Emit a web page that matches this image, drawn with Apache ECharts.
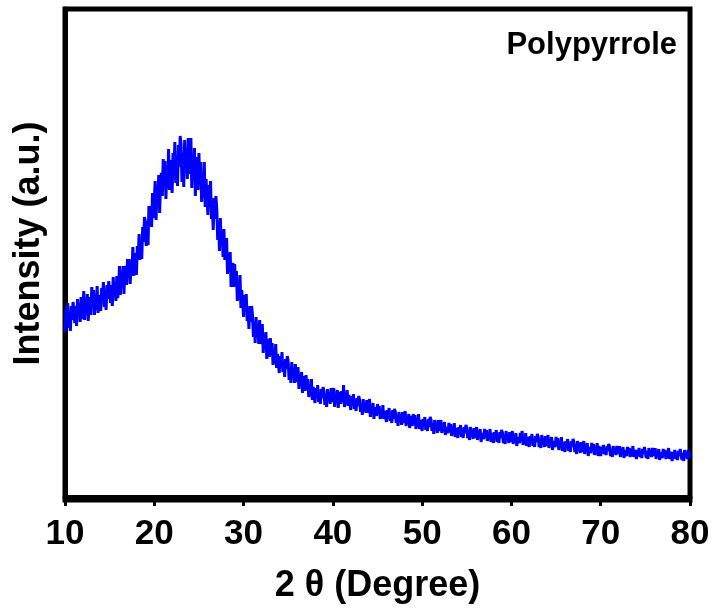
<!DOCTYPE html>
<html>
<head>
<meta charset="utf-8">
<script src="https://cdn.jsdelivr.net/npm/echarts@6/dist/echarts.min.js"></script>
<style>
html,body{margin:0;padding:0;background:#fff;}
#chart{width:713px;height:613px;}
</style>
</head>
<body>
<div id="chart"></div>
<script>
// 2θ sampling grid (degrees)
var angleStart = 10;
var angleStep = 0.1;
// intensity (a.u.), 10 values per degree from 10° to 80°
var intensity = [
165,188,175,194,169,183,166,191,177,195, // 10
195,174,191,171,198,180,194,175,200,178, // 11
183,206,177,197,188,203,176,196,200,182, // 12
210,191,207,182,198,187,211,184,202,193, // 13
186,209,196,215,190,204,187,212,198,216, // 14
217,194,212,191,220,201,215,196,221,199, // 15
206,231,202,223,215,231,203,225,231,212, // 16
238,220,238,213,232,222,250,221,244,235, // 17
222,251,240,263,237,256,238,270,255,280, // 18
276,251,276,252,291,270,291,270,304,279, // 19
281,316,277,308,298,322,284,316,324,301, // 20
338,310,336,298,324,309,348,307,337,324, // 21
304,344,323,355,314,338,311,352,330,361, // 22
352,315,344,310,357,326,349,318,359,323, // 23
321,359,309,340,324,349,301,334,340,307, // 24
344,313,335,295,317,299,335,290,318,301, // 25
282,312,291,316,278,294,267,299,278,301, // 26
288,257,276,246,279,252,267,240,268,237, // 27
235,259,223,243,230,245,210,231,234,210, // 28
233,211,226,196,211,197,222,189,207,195, // 29
180,202,186,203,176,188,168,191,175,191, // 30
182,160,175,154,180,161,173,153,177,153, // 31
153,173,144,162,152,165,138,155,158,140, // 32
159,142,154,132,144,134,153,129,143,134, // 33
124,141,130,145,125,134,120,138,128,141, // 34
135,117,130,114,135,119,129,114,133,115, // 35
114,130,108,122,115,125,104,117,121,106, // 36
122,108,118,100,110,101,118,97,110,103,  // 37
94,109,100,112,95,104,93,108,99,110,     // 38
106,92,103,90,108,96,105,93,109,95,      // 39
94,109,90,103,97,107,89,102,105,93,      // 40
106,95,112,90,99,93,107,91,102,96,       // 41
87,101,92,103,88,96,86,99,91,101,        // 42
97,85,94,82,98,86,95,84,97,84,           // 43
84,98,80,92,86,94,78,90,91,81,           // 44
93,84,91,78,86,79,92,78,86,81,           // 45
75,87,80,89,76,83,74,87,78,88,           // 46
85,74,82,71,85,76,83,72,85,74,           // 47
74,86,71,80,75,83,69,78,81,71,           // 48
83,74,82,68,76,70,83,68,77,72,           // 49
66,78,72,80,67,75,66,78,70,80,           // 50
77,66,74,63,77,68,75,64,77,66,           // 51
66,77,64,72,68,75,62,70,72,64,           // 52
74,66,73,61,68,63,74,60,69,65,           // 53
59,70,64,72,60,66,59,70,64,72,           // 54
69,59,66,57,70,61,67,58,69,59,           // 55
59,70,57,66,61,68,55,64,66,58,           // 56
68,60,67,56,63,58,68,55,64,60,           // 57
54,65,59,67,55,61,54,65,59,67,           // 58
64,54,62,53,66,57,63,54,65,55,           // 59
55,66,53,62,57,64,51,60,62,54,           // 60
64,56,66,52,59,53,64,51,60,56,           // 61
50,61,55,63,51,57,50,61,55,63,           // 62
60,50,58,49,62,53,59,50,61,51,           // 63
51,62,49,58,53,60,47,56,58,50,           // 64
60,52,59,47,54,49,60,46,55,51,           // 65
45,56,50,58,46,52,45,56,50,58,           // 66
55,45,52,43,56,47,54,44,55,45,           // 67
45,56,43,52,48,54,41,50,52,44,           // 68
54,46,53,42,49,43,54,41,51,46,           // 69
41,50,45,52,43,48,42,51,46,53,           // 70
50,41,48,40,51,44,49,42,51,43,           // 71
42,51,40,47,44,50,39,47,49,41,           // 72
50,43,49,40,46,41,51,40,47,44,           // 73
38,47,42,49,40,45,39,48,43,50,           // 74
48,39,46,38,49,42,47,40,49,41,           // 75
40,49,38,45,42,48,37,45,47,39,           // 76
48,41,47,38,44,39,49,38,45,42,           // 77
36,45,40,47,38,43,37,46,41,48,           // 78
46,37,44,36,47,40,45,38,47,39,           // 79
44                                       // 80
];
var xTicks = [10, 20, 30, 40, 50, 60, 70, 80];
var yMin = -3, yMax = 488;
var sampleLabel = 'Polypyrrole';
var xTitle = '2 θ (Degree)';
var yTitle = 'Intensity (a.u.)';

var points = intensity.map(function (v, i) { return [+(angleStart + i * angleStep).toFixed(2), v]; });
var FONT = '"Liberation Sans", Arial, Helvetica, sans-serif';

var chart = echarts.init(document.getElementById('chart'), null, {renderer: 'canvas'});
chart.setOption({
  animation: false,
  backgroundColor: '#ffffff',
  grid: {
    left: 65, right: 23, top: 9, bottom: 113,
    show: true, borderColor: '#000', borderWidth: 5, backgroundColor: 'transparent'
  },
  xAxis: {
    type: 'value',
    min: xTicks[0], max: xTicks[xTicks.length - 1], interval: 10,
    axisLine: {show: true, lineStyle: {color: '#000', width: 5}},
    axisTick: {show: true, inside: false, length: 9, lineStyle: {color: '#000', width: 3}},
    minorTick: {show: true, splitNumber: 2, length: 5, lineStyle: {color: '#000', width: 3}},
    splitLine: {show: false},
    axisLabel: {color: '#000', fontSize: 35, fontWeight: 'bold', fontFamily: FONT, margin: 17},
    name: xTitle, nameLocation: 'middle', nameGap: 68,
    nameTextStyle: {color: '#000', fontSize: 36, fontWeight: 'bold', fontFamily: FONT}
  },
  yAxis: {
    type: 'value', min: yMin, max: yMax,
    axisLine: {show: true, lineStyle: {color: '#000', width: 5}},
    axisTick: {show: false}, axisLabel: {show: false}, splitLine: {show: false},
    name: yTitle, nameLocation: 'middle', nameRotate: 90, nameGap: 18,
    nameTextStyle: {color: '#000', fontSize: 36, fontWeight: 'bold', fontFamily: FONT, padding: [0, 0, 0, 22]}
  },
  graphic: [{
    type: 'text', x: 677, y: 45,
    style: {text: sampleLabel, fill: '#000', font: 'bold 31px ' + FONT, textAlign: 'right', textVerticalAlign: 'middle'}
  }],
  series: [{
    type: 'line', data: points, showSymbol: false, symbol: 'none',
    lineStyle: {color: '#0000ff', width: 3}, itemStyle: {color: '#0000ff'}, clip: true, z: 1
  }]
});
</script>
</body>
</html>
